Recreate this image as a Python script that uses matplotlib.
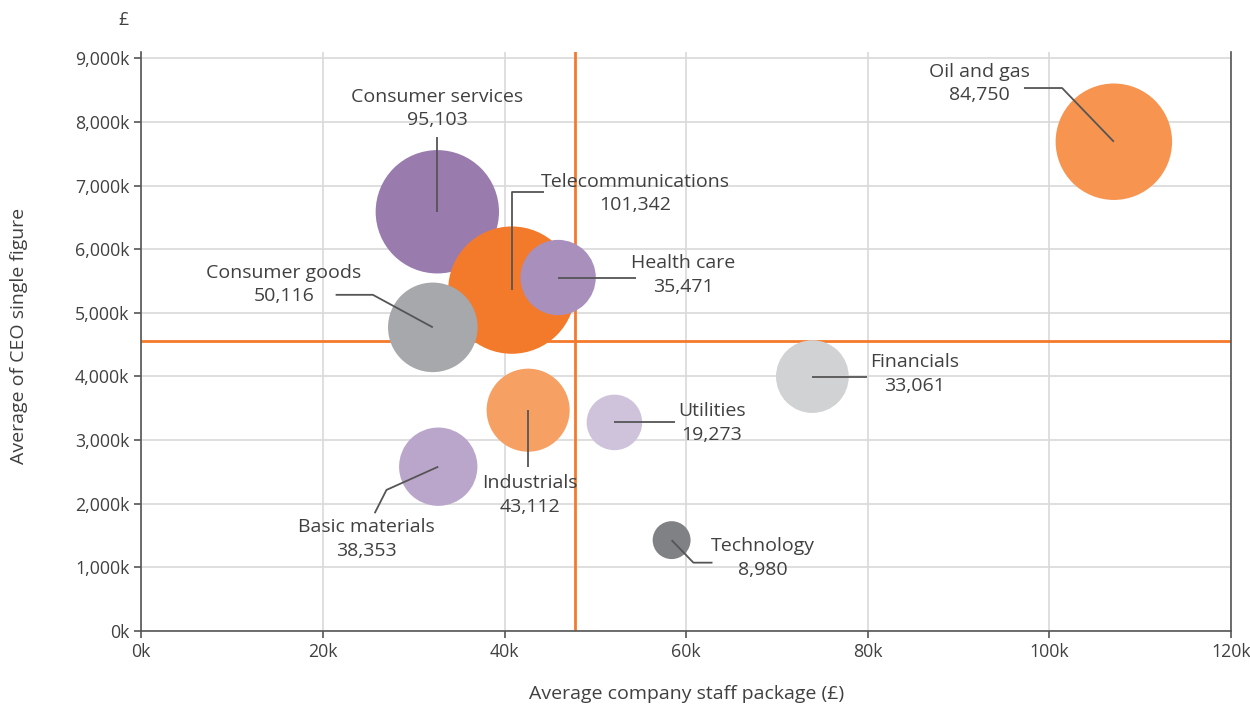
import matplotlib
matplotlib.use("Agg")
import matplotlib.pyplot as plt
import numpy as np

plt.rcParams['font.family'] = ['Open Sans', 'DejaVu Sans']

# ---- data ----
sectors = ["Oil and gas", "Consumer services", "Telecommunications", "Health care",
           "Consumer goods", "Financials", "Industrials", "Utilities",
           "Basic materials", "Technology"]
staff_package_k = [107.1, 32.6, 40.8, 45.9, 32.1, 73.9, 42.6, 52.1, 32.7, 58.4]
ceo_figure_k = [7689, 6588, 5357, 5555, 4772, 3998, 3470, 3278, 2582, 1428]
bubble_values = [84750, 95103, 101342, 35471, 50116, 33061, 43112, 19273, 38353, 8980]
value_labels = ["84,750", "95,103", "101,342", "35,471", "50,116", "33,061",
                "43,112", "19,273", "38,353", "8,980"]
avg_staff_k = 47.8
avg_ceo_k = 4555

x_ticks = [0, 20, 40, 60, 80, 100, 120]
y_ticks = [0, 1000, 2000, 3000, 4000, 5000, 6000, 7000, 8000, 9000]

colors = ["#F7944F", "#9A7BAE", "#F47A2B", "#A98FBC", "#A7A8AB",
          "#D1D2D4", "#F6A063", "#CFC2DB", "#BBA6CB", "#808184"]

# label layout: text centre (x, y) and leader-line waypoints (after bubble centre)
label_pos = {
    "Oil and gas": (92.3, 8601),
    "Consumer services": (32.6, 8208),
    "Telecommunications": (54.4, 6871),
    "Health care": (59.7, 5597),
    "Consumer goods": (15.7, 5440),
    "Financials": (85.2, 4041),
    "Industrials": (42.8, 2138),
    "Utilities": (62.85, 3270),
    "Basic materials": (24.8, 1447),
    "Technology": (68.4, 1148),
}
leader_pts = {
    "Oil and gas": [(101.4, 8533), (97.2, 8533)],
    "Consumer services": [(32.6, 7767)],
    "Telecommunications": [(40.8, 6903), (44.4, 6903)],
    "Health care": [(54.5, 5555)],
    "Consumer goods": [(25.5, 5283), (21.4, 5283)],
    "Financials": [(79.95, 3998)],
    "Industrials": [(42.6, 2574)],
    "Utilities": [(58.8, 3278)],
    "Basic materials": [(27.0, 2217), (25.7, 1851)],
    "Technology": [(60.8, 1074), (62.9, 1074)],
}

W, H = 1250, 706
fig = plt.figure(figsize=(W / 100, H / 100), dpi=100)
ax = fig.add_axes([141.3 / W, 1 - 631 / H, (1231 - 141.3) / W, (631 - 52) / H])

txt_col = "#404040"
ax.set_xlim(0, 120)
ax.set_ylim(0, 9000 * (631 - 52) / (631 - 58.3))

ax.set_xticks(x_ticks)
ax.set_xticklabels([f"{v}k" for v in x_ticks])
ax.set_yticks(y_ticks)
ax.set_yticklabels([f"{v:,}k" for v in y_ticks])
ax.tick_params(axis='both', labelsize=12.8, colors="#555555", labelcolor=txt_col,
               length=5, width=1.2, direction='out')
ax.grid(True, color="#D9D9D9", linewidth=1.2, zorder=0)
ax.set_axisbelow(True)

for s in ['left', 'bottom', 'right']:
    ax.spines[s].set_color("#555555")
    ax.spines[s].set_linewidth(1.2)
ax.spines['top'].set_visible(False)

# average lines
ax.axvline(avg_staff_k, color="#F47A2B", linewidth=2, zorder=1)
ax.axhline(avg_ceo_k, color="#F47A2B", linewidth=2, zorder=1)

# bubbles: radius_px = 0.2*sqrt(value); s = (2*r_pt)^2
sizes = [(2 * 0.2 * 0.72) ** 2 * v for v in bubble_values]
ax.scatter(staff_package_k, ceo_figure_k, s=sizes, c=colors, edgecolors='none',
           zorder=2, clip_on=False)

for i, name in enumerate(sectors):
    pts = [(staff_package_k[i], ceo_figure_k[i])] + leader_pts[name]
    xs, ys = zip(*pts)
    ax.plot(xs, ys, color="#555555", linewidth=1.3, zorder=3, solid_capstyle='butt')
    lx, ly = label_pos[name]
    ax.text(lx, ly, f"{name}\n{value_labels[i]}", ha='center', va='center',
            fontsize=14, color=txt_col, linespacing=1.38, zorder=4)

ax.set_xlabel("Average company staff package (£)", fontsize=14, color=txt_col)
ax.xaxis.set_label_coords((687 - 141.3) / (1231 - 141.3), -(694 - 631) / (631 - 52))
ax.xaxis.label.set_va('center')
ax.set_ylabel("Average of CEO single figure", fontsize=14, color=txt_col)
ax.yaxis.set_label_coords(-(141.3 - 19) / (1231 - 141.3), (631 - 336) / (631 - 52))
ax.yaxis.label.set_va('center')

fig.text(123 / W, 1 - 20 / H, "£", ha='center', va='center', fontsize=12.8, color=txt_col)

fig.savefig("out.png", dpi=100)
